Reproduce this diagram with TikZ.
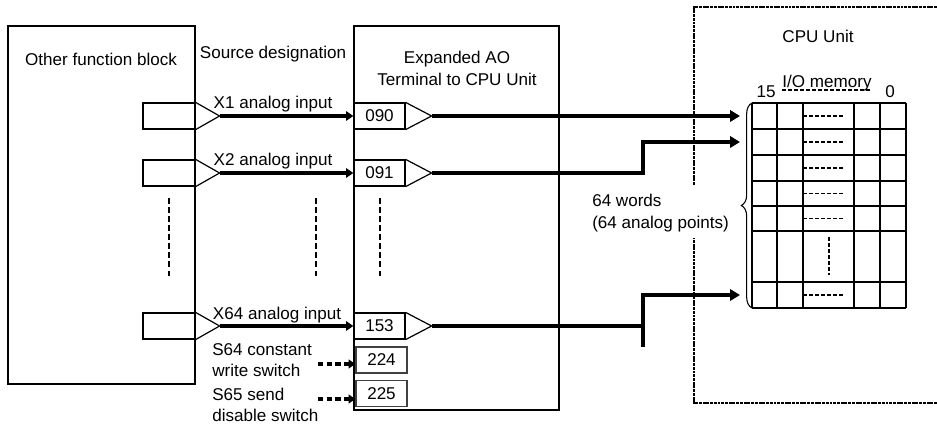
\documentclass[tikz,border=0pt]{standalone}
\usepackage{fontspec}
\setmainfont{Liberation Sans}
\usepackage{tikz}
\usetikzlibrary{positioning, arrows.meta, decorations.pathreplacing, calc}

\begin{document}
\begin{tikzpicture}[x=0.75pt, y=-0.75pt,
      blk/.style={draw, line width=0.9pt, inner sep=0pt},
      port/.style={draw, line width=0.9pt, inner sep=0pt,
                   minimum width=51*0.75pt, minimum height=26*0.75pt,
                   font=\fontsize{12.8}{16}\selectfont},
      lbl/.style={inner sep=0pt, font=\fontsize{12.8}{16}\selectfont},
      arr/.style={-{Triangle[length=5.5pt, width=7pt]}, line width=3pt},
      marr/.style={-{Triangle[length=7.5pt, width=8.5pt]}, line width=3pt,
                   line join=miter},
      bus/.style={line width=3pt},
      swarr/.style={-{Triangle[length=5pt, width=6.5pt]}, line width=2.4pt,
                    dash pattern=on 4pt off 2.5pt},
      dots/.style={line width=1.5pt, dash pattern=on 4.5pt off 2.3pt},
      mdash/.style={line width=1.3pt, dash pattern=on 3pt off 1.5pt},
      cpu/.style={line width=0.9pt, dash pattern=on 2.2pt off 0.6pt},
      grid/.style={line width=0.8pt}
    ]
    \useasboundingbox (0,0) rectangle (937,427);

    %--- Other function block (left) ---
    \node[blk, minimum width=187*0.75pt, minimum height=358*0.75pt]
          (ofb) at (101.5,205) {};
    \node[lbl] (ofbt) at (101,59) {Other function block};
    \node[lbl] (srct) at (273,54) {Source designation};

    \foreach \i/\y in {1/116, 2/173, 64/326} {
      \node[port, minimum width=52*0.75pt] (src\i) at (169,\y) {};
      \draw[line width=0.9pt] (src\i.north east)
            -- ($(src\i.east)+(24,0)$) coordinate (stip\i)
            -- (src\i.south east);
    }

    %--- Expanded AO Terminal to CPU Unit ---
    \node[blk, minimum width=205*0.75pt, minimum height=384*0.75pt]
          (ao) at (456.5,218) {};
    \node[lbl, align=center] (aot) at (457,68.5)
          {Expanded AO\\Terminal to CPU Unit};

    \foreach \i/\lab/\y/\xx in {1/090/116/273, 2/091/173/273, 64/153/326/277} {
      \node[port] (ai\i) at (379.5,\y) {\lab};
      \draw[line width=0.9pt] (ai\i.north east)
            -- ($(ai\i.east)+(26,0)$) coordinate (atip\i)
            -- (ai\i.south east);
      \draw[arr] (stip\i) -- (ai\i.west);
      \node[lbl, anchor=base] (x\i) at (\xx,\y-7) {X\i{} analog input};
    }

    \foreach \x in {169, 316, 380}
      \draw[dots] (\x,198) -- (\x,276);

    %--- switches ---
    \node[port, draw=black!75] (sw1) at (381.5,360) {224};
    \node[port, draw=black!75] (sw2) at (381.5,393.5) {225};
    \node[lbl, anchor=west, align=left] (s64) at (212,360)
          {S64 constant\\write switch};
    \node[lbl, anchor=west, align=left] (s65) at (212,405)
          {S65 send\\disable switch};
    \coordinate (sw1in) at (318,364);
    \coordinate (sw2in) at (318,399);
    \draw[swarr] (sw1in) -- (sw1in -| sw1.west);
    \draw[swarr] (sw2in) -- (sw2in -| sw2.west);

    %--- CPU Unit (right) ---
    \draw[cpu] (694,185) -- (694,7) -- (937,7);
    \draw[cpu] (937,403) -- (694,403) -- (694,238);
    \node[lbl] (cput) at (818,36) {CPU Unit};
    \node[lbl, anchor=base] (io) at (827,88) {I/O memory};
    \draw[mdash, line width=0.9pt] ([yshift=-1.5pt]io.base west)
          -- ([yshift=-1.5pt]io.base east);
    \node[lbl, anchor=base] (b15) at (766,98) {15};
    \node[lbl, anchor=base] (b0) at (890,98) {0};

    % memory words
    \foreach \x in {752, 777, 803, 854, 880, 906}
      \draw[grid] (\x,103) -- (\x,308);
    \foreach \y in {103, 129, 155, 181, 206, 231, 282, 308}
      \draw[grid] (752,\y) -- (906,\y);
    \foreach \y in {116, 142, 168, 193.5, 218.5, 295}
      \draw[mdash] (803,\y) -- (843,\y);
    \draw[mdash, line width=1.5pt] (829,237) -- (829,275);

    \draw[decorate, decoration={brace, amplitude=8pt}, line width=0.8pt]
          (752,308) -- (752,103);
    \node[lbl, anchor=west, align=left] (words) at (592,213)
          {64 words\\(64 analog points)};

    %--- connections to I/O memory ---
    \coordinate (m1) at (740,116);
    \coordinate (m2) at (740,142);
    \coordinate (m7) at (740,295);
    \coordinate (j2) at (643,142);
    \coordinate (j7) at (643,295);
    \coordinate (j7b) at (643,347);
    \draw[marr] (atip1) -- (m1);
    \draw[marr] (atip2) -| (j2) -- (m2);
    \draw[bus] (atip64) -- (atip64 -| j7);
    \draw[marr] (j7b) -- (j7) -- (m7);
  \end{tikzpicture}
\end{document}
